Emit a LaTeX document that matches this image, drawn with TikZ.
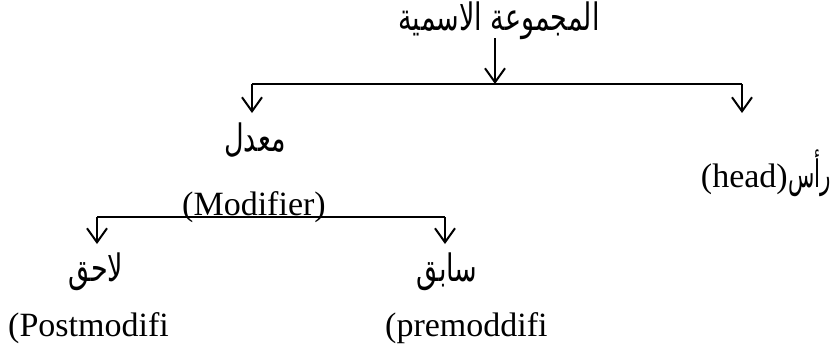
\documentclass[tikz,border=0pt]{standalone}
\usepackage{fontspec}
\setmainfont{Liberation Serif}
\newfontfamily\arabicfont[Script=Arabic]{DejaVu Sans}
\TeXXeTstate=1
\usetikzlibrary{arrows.meta}
% Arabic labels, set a little taller than the font draws them
\newcommand{\artext}[2][1]{\scalebox{#1}[1.4]{\arabicfont\beginR #2\endR}}

\begin{document}
\begin{tikzpicture}[x=1pt, y=-1pt,
  bar/.style={line width=2.4pt},
  down/.style={line width=2pt, -{Straight Barb[length=14pt, width=20pt, line width=2pt]}},
  ar/.style={font=\fontsize{27}{32}\selectfont, inner sep=0pt},
  la/.style={font=\fontsize{34}{40}\selectfont, inner sep=0pt}]
\useasboundingbox (0,0) rectangle (839,349);
\clip (0,0) rectangle (839,349);

% root
\node[ar] (np) at (499,21) {\artext{المجموعة الاسمية}};
\coordinate (rootfoot) at (495,38);
\coordinate (j1) at (495,84);
\draw[down] (rootfoot) -- (j1);

% first level split
\coordinate (l1) at (252,84);
\coordinate (r1) at (742,84);
\draw[bar] (l1) -- (r1);
\coordinate (l1e) at (252,113);
\coordinate (r1e) at (742,113);
\draw[down] (l1) -- (l1e);
\draw[down] (r1) -- (r1e);

\node[ar] (mod) at (255,140) {\artext{معدل}};
\node[la, anchor=base east] (headen) at (788,187) {(head)};
\node[ar, anchor=base west] (head) at (headen.base east) {\artext[0.8]{رأس}};
\node[la, anchor=base] (moden) at (254,215) {(Modifier)};

% second level split
\coordinate (l2) at (97,217);
\coordinate (r2) at (445,217);
\draw[bar] (l2) -- (r2);
\coordinate (l2e) at (97,244);
\coordinate (r2e) at (445,244);
\draw[down] (l2) -- (l2e);
\draw[down] (r2) -- (r2e);

\node[ar] (post) at (96,272) {\artext{لاحق}};
\node[ar] (pre) at (447,272) {\artext{سابق}};
\node[la, anchor=base west] (posten) at (8,336) {(Postmodifi};
\node[la, anchor=base west] (preen) at (385,336) {(premoddifi};
\end{tikzpicture}
\end{document}
